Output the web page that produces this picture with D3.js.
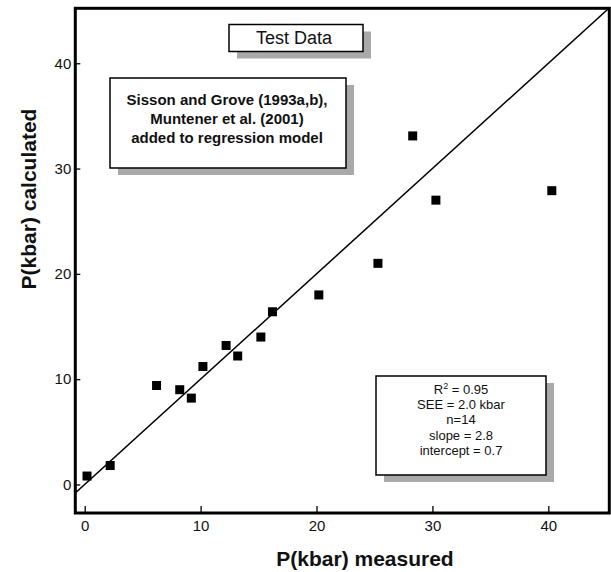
<!DOCTYPE html>
<html>
<head>
<meta charset="utf-8">
<script src="https://cdn.jsdelivr.net/npm/d3@7"></script>
<style>
  body { margin: 0; background: #fff; }
  svg { font-family: "Liberation Sans", Arial, Helvetica, sans-serif; }
</style>
</head>
<body>
<div class="chart"></div>
<script>
// measured vs calculated pressure (kbar)
const measured   = [0.2, 2.2, 6.2, 8.2, 9.2, 10.2, 12.2, 13.2, 15.2, 16.2, 20.2, 25.3, 28.3, 30.3, 40.3];
const calculated = [0.8, 1.8, 9.4, 9.0, 8.2, 11.2, 13.2, 12.2, 14.0, 16.4, 18.0, 21.0, 33.1, 27.0, 27.9];
const xTicks = [0, 10, 20, 30, 40];
const yTicks = [0, 10, 20, 30, 40];
const oneToOne = [-5, 50];

const titleText = "Test Data";
const noteLines = ["Sisson and Grove (1993a,b),", "Muntener et al. (2001)", "added to regression model"];
const statLines = ["SEE = 2.0 kbar", "n=14", "slope = 2.8", "intercept = 0.7"];
const r2 = "0.95";

const w = 611, h = 572;
const margin = { top: 8.3, right: 1.7, bottom: 59, left: 75.3 };

const svg = d3.select(".chart").append("svg")
  .attr("width", w)
  .attr("height", h);

const x = d3.scaleLinear()
  .domain([-0.81, 45.26])
  .range([margin.left, w - margin.right]);
const y = d3.scaleLinear()
  .domain([-2.71, 45.22])
  .range([h - margin.bottom, margin.top]);

svg.append("clipPath").attr("id", "clip")
  .append("rect")
  .attr("x", margin.left).attr("y", margin.top)
  .attr("width", w - margin.left - margin.right)
  .attr("height", h - margin.top - margin.bottom);

// axes (ticks point inward)
const xAxis = svg.append("g")
  .attr("transform", "translate(0," + (h - margin.bottom) + ")")
  .call(d3.axisBottom(x).tickValues(xTicks).tickSize(-7).tickPadding(7));
const yAxis = svg.append("g")
  .attr("transform", "translate(" + margin.left + ",0)")
  .call(d3.axisLeft(y).tickValues(yTicks).tickSize(-5).tickPadding(4));

[xAxis, yAxis].forEach(function(a) {
  a.select(".domain").remove();
  a.selectAll("line").attr("stroke", "#000").attr("stroke-width", 1.3);
  a.selectAll("text").attr("fill", "#111").style("font-size", "15px")
    .style("font-family", "Liberation Sans, Arial, sans-serif");
});

// 1:1 line
svg.append("line")
  .attr("clip-path", "url(#clip)")
  .attr("x1", x(oneToOne[0])).attr("y1", y(oneToOne[0]))
  .attr("x2", x(oneToOne[1])).attr("y2", y(oneToOne[1]))
  .attr("stroke", "#000").attr("stroke-width", 1.5);

// points
const pts = measured.map(function(d, i) { return [d, calculated[i]]; });
svg.append("g")
  .selectAll("rect")
  .data(pts)
  .enter()
  .append("rect")
  .attr("x", function(d) { return x(d[0]) - 4.5; })
  .attr("y", function(d) { return y(d[1]) - 4.5; })
  .attr("width", 9)
  .attr("height", 9)
  .attr("fill", "#000");

// frame
svg.append("rect")
  .attr("x", margin.left).attr("y", margin.top)
  .attr("width", w - margin.left - margin.right)
  .attr("height", h - margin.top - margin.bottom)
  .attr("fill", "none")
  .attr("stroke", "#000")
  .attr("stroke-width", 3);

// boxes with drop shadow
function shadowBox(bx, by, bw, bh) {
  svg.append("rect")
    .attr("x", bx + 8).attr("y", by + 7)
    .attr("width", bw).attr("height", bh)
    .attr("fill", "#a9a9a9");
  svg.append("rect")
    .attr("x", bx).attr("y", by)
    .attr("width", bw).attr("height", bh)
    .attr("fill", "#fff")
    .attr("stroke", "#000")
    .attr("stroke-width", 1.5);
}

shadowBox(229, 24.5, 134, 27);
svg.append("text")
  .attr("x", 294).attr("y", 38)
  .attr("dy", "0.36em")
  .attr("text-anchor", "middle")
  .style("font-size", "18px")
  .attr("fill", "#111")
  .text(titleText);

shadowBox(110, 78, 236, 90);
svg.append("g").selectAll("text")
  .data(noteLines)
  .enter()
  .append("text")
  .attr("x", 227)
  .attr("y", function(d, i) { return 100 + i * 19; })
  .attr("dy", "0.36em")
  .attr("text-anchor", "middle")
  .style("font-size", "15px")
  .style("font-weight", "bold")
  .attr("fill", "#111")
  .text(function(d) { return d; });

shadowBox(376, 376, 170, 99);
const r2Text = svg.append("text")
  .attr("x", 461).attr("y", 389)
  .attr("dy", "0.36em")
  .attr("text-anchor", "middle")
  .style("font-size", "13px")
  .attr("fill", "#111");
r2Text.append("tspan").text("R");
r2Text.append("tspan").attr("dy", "-5").style("font-size", "9px").text("2");
r2Text.append("tspan").attr("dy", "5").text(" = " + r2);

svg.append("g").selectAll("text")
  .data(statLines)
  .enter()
  .append("text")
  .attr("x", 461)
  .attr("y", function(d, i) { return 404.5 + i * 15.2; })
  .attr("dy", "0.36em")
  .attr("text-anchor", "middle")
  .style("font-size", "13px")
  .attr("fill", "#111")
  .text(function(d) { return d; });

// axis titles
svg.append("text")
  .attr("x", 365).attr("y", 558)
  .attr("dy", "0.36em")
  .attr("text-anchor", "middle")
  .style("font-size", "21px")
  .style("font-weight", "bold")
  .attr("fill", "#111")
  .text("P(kbar) measured");

svg.append("text")
  .attr("transform", "translate(28,199) rotate(-90)")
  .attr("dy", "0.36em")
  .attr("text-anchor", "middle")
  .style("font-size", "21px")
  .style("font-weight", "bold")
  .attr("fill", "#111")
  .text("P(kbar) calculated");
</script>
</body>
</html>
